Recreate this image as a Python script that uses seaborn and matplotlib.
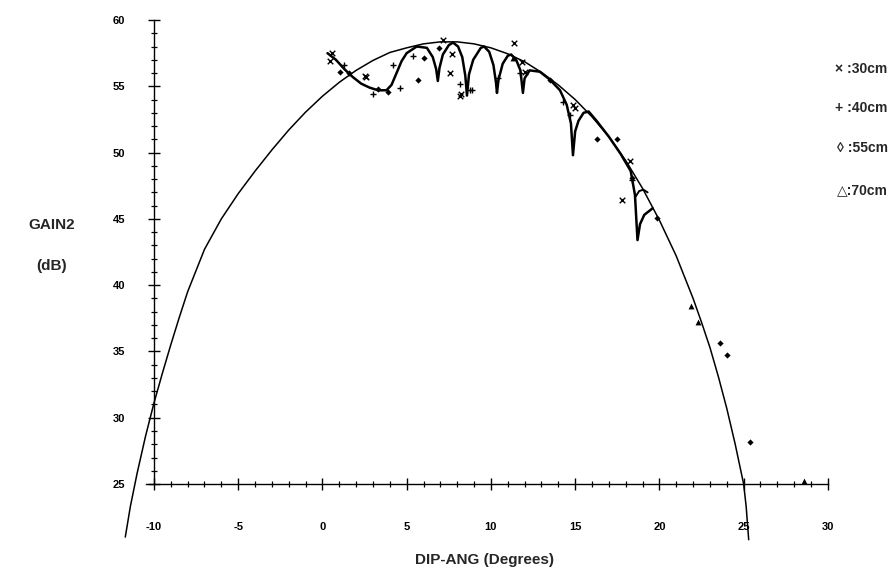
import numpy as np
import pandas as pd
import seaborn as sns
import matplotlib.pyplot as plt

# envelope (theoretical curve)
env_x = [-11.7, -11.4, -11.0, -10.5, -10.0, -9.5, -9.0, -8.5, -8.0, -7.0, -6.0, -5.0, -4.0,
         -3.0, -2.0, -1.0, 0.0, 1.0, 2.0, 3.0, 4.0, 5.0, 6.0, 7.0, 8.0, 9.0, 10.0, 11.0,
         12.0, 13.0, 14.0, 15.0, 16.0, 17.0, 18.0, 19.0, 20.0, 21.0, 22.0, 22.5, 23.0,
         23.5, 24.0, 24.5, 25.0, 25.15, 25.3]
env_y = [21.0, 23.3, 25.8, 28.6, 31.1, 33.35, 35.5, 37.55, 39.5, 42.7, 45.0, 46.9, 48.6,
         50.2, 51.7, 53.05, 54.25, 55.3, 56.2, 56.95, 57.55, 57.9, 58.2, 58.35, 58.35, 58.2,
         57.9, 57.45, 56.85, 56.05, 55.1, 54.0, 52.7, 51.2, 49.4, 47.3, 44.9, 42.2, 39.0,
         37.2, 35.3, 33.1, 30.7, 28.0, 25.0, 23.3, 20.8]

# fitted curve with interference dips
fit_x = [0.3, 0.8, 1.3, 1.8, 2.3, 2.8, 3.3, 3.8, 4.1, 4.4, 4.7, 5.0, 5.6, 6.2, 6.55, 6.75,
         6.85, 6.95, 7.15, 7.5, 7.75, 8.05, 8.3, 8.48, 8.58, 8.7, 8.95, 9.4, 9.6, 9.9,
         10.15, 10.3, 10.36, 10.45, 10.7, 11.0, 11.2, 11.5, 11.75, 11.9, 12.0, 12.3,
         12.9, 13.5, 14.1, 14.5, 14.75, 14.87, 15.0, 15.2, 15.5, 15.8, 16.3, 17.0,
         17.7, 18.3, 18.55, 18.7, 18.85, 19.1, 19.4, 19.6]
fit_y = [57.5, 57.0, 56.3, 55.7, 55.2, 54.9, 54.7, 54.7, 55.1, 56.0, 56.9, 57.5, 58.0, 57.9,
         57.2, 56.3, 55.4, 56.4, 57.4, 58.1, 58.3, 58.0, 57.2, 55.8, 54.3, 55.9, 57.0, 57.9,
         58.0, 57.6, 56.6, 55.3, 54.5, 55.5, 56.7, 57.3, 57.4, 57.0, 56.2, 54.5, 55.6, 56.2,
         56.1, 55.5, 54.7, 53.6, 52.2, 49.8, 51.6, 52.4, 53.0, 53.1, 52.35, 51.2, 49.9, 48.6,
         46.8, 43.4, 44.6, 45.3, 45.6, 45.8]
arc_x = [18.6, 18.8, 19.05, 19.3]
arc_y = [46.7, 47.1, 47.2, 47.0]

# measured points per antenna height
x30 = [0.45, 0.56, 2.52, 2.6, 7.15, 7.56, 7.7, 8.16, 8.2, 11.4, 11.84, 12.0, 14.87, 15.0, 17.8, 18.25]
y30 = [56.9, 57.5, 55.8, 55.7, 58.5, 56.0, 57.4, 54.3, 54.4, 58.3, 56.8, 56.1, 53.6, 53.4, 46.4, 49.4]
x40 = [1.3, 3.0, 4.18, 4.6, 5.4, 8.16, 8.75, 8.87, 10.4, 11.7, 14.3, 14.7, 18.4]
y40 = [56.6, 54.4, 56.6, 54.9, 57.3, 55.2, 54.7, 54.7, 55.6, 56.0, 53.8, 52.8, 47.9]
x55 = [1.04, 1.6, 3.3, 3.9, 5.67, 6.0, 6.9, 13.5, 16.3, 17.5, 18.4, 19.85, 23.6, 24.0, 25.4]
y55 = [56.1, 56.0, 54.8, 54.6, 55.5, 57.1, 57.9, 55.5, 51.0, 51.0, 48.1, 45.1, 35.6, 34.7, 28.2]
x70 = [11.3, 21.9, 22.3, 28.6]
y70 = [57.1, 38.4, 37.2, 25.2]

legend_labels = ["\u00d7 :30cm", "+ :40cm", "\u25ca :55cm", "\u25b3:70cm"]

sns.set_style("ticks")
plt.rcParams['font.family'] = ['Liberation Sans', 'DejaVu Sans']
plt.rcParams['font.weight'] = 'bold'
plt.rcParams['axes.unicode_minus'] = False

fig = plt.figure(figsize=(8.92, 5.71), dpi=100)
ax = fig.add_axes([0.1159, 0.0362, 0.850, 0.952])

env = pd.DataFrame({"x": env_x, "y": env_y})
fit = pd.DataFrame({"x": fit_x, "y": fit_y})
arc = pd.DataFrame({"x": arc_x, "y": arc_y})
sns.lineplot(data=env, x="x", y="y", sort=False, estimator=None, color="black", lw=1.1, ax=ax)
sns.lineplot(data=fit, x="x", y="y", sort=False, estimator=None, color="black", lw=1.8, ax=ax)
sns.lineplot(data=arc, x="x", y="y", sort=False, estimator=None, color="black", lw=1.4, ax=ax)

sns.scatterplot(x=x30, y=y30, marker="x", s=16, color="black", linewidth=1.0, ax=ax)
sns.scatterplot(x=x40, y=y40, marker="+", s=22, color="black", linewidth=1.0, ax=ax)
sns.scatterplot(x=x55, y=y55, marker="D", s=10, color="black", linewidth=0, ax=ax)
sns.scatterplot(x=x70, y=y70, marker="^", s=18, color="black", linewidth=0, ax=ax)

ax.set_xlim(-13, 32)
ax.set_ylim(20, 61)
for s in ["top", "right"]:
    ax.spines[s].set_visible(False)
ax.spines["left"].set_position(("data", -10))
ax.spines["left"].set_bounds(25, 60)
ax.spines["bottom"].set_position(("data", 25))
ax.spines["bottom"].set_bounds(-10.5, 30)
for s in ["left", "bottom"]:
    ax.spines[s].set_color("black")
    ax.spines[s].set_linewidth(1.0)

ax.set_xticks(range(-10, 31, 5))
ax.set_xticks(range(-10, 31, 1), minor=True)
ax.set_yticks(range(25, 61, 5))
ax.set_yticks(range(25, 61, 1), minor=True)
ax.tick_params(which="both", bottom=True, left=True, top=False, right=False)
ax.tick_params(which="major", direction="inout", length=9, width=1.0, colors="black")
ax.tick_params(which="minor", direction="inout", length=5, width=0.9, colors="black")
ax.tick_params(axis="x", which="minor", length=4)
ax.tick_params(axis="y", which="major", pad=16, labelsize=8)
ax.tick_params(axis="x", which="major", pad=23, labelsize=8)
ax.set_xlabel("")
ax.set_ylabel("")

fig.text(0.058, 0.606, "GAIN2", ha="center", va="center", fontsize=11, fontweight="bold")
fig.text(0.058, 0.534, "(dB)", ha="center", va="center", fontsize=11, fontweight="bold")
fig.text(0.543, 0.019, "DIP-ANG (Degrees)", ha="center", va="center", fontsize=11, fontweight="bold")

legend_y = [69, 108, 148, 190]
for lab, py in zip(legend_labels, legend_y):
    fig.text(0.995, 1 - py / 571, lab, ha="right", va="center", fontsize=10, fontweight="bold")

fig.savefig("out.png", dpi=100, facecolor="white")
